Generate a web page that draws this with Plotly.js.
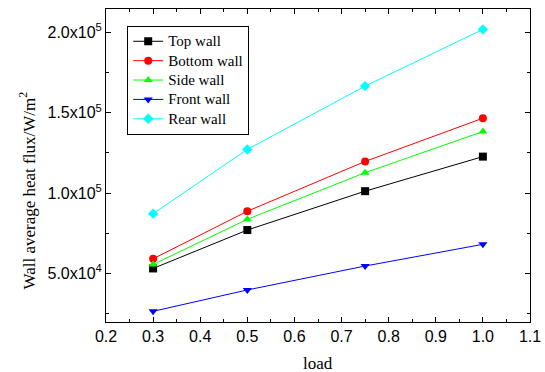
<!DOCTYPE html>
<html>
<head>
<meta charset="utf-8">
<script src="https://cdn.plot.ly/plotly-3.0.1.min.js"></script>
<style>html,body{margin:0;padding:0;background:#fff;}#chart{width:545px;height:372px;}</style>
</head>
<body>
<div id="chart"></div>
<script>
const load = [0.3, 0.5, 0.75, 1.0];
const topWall = [53100, 77000, 101200, 122700];
const bottomWall = [59100, 88700, 119700, 146600];
const sideWall = [55600, 83700, 112700, 138300];
const frontWall = [26400, 39700, 54600, 68100];
const rearWall = [87200, 127200, 166600, 201900];
const seriesNames = ["Top wall", "Bottom wall", "Side wall", "Front wall", "Rear wall"];
const yTickVals = [50000, 100000, 150000, 200000];
const yTickText = ["5.0x10<sup>4</sup>", "1.0x10<sup>5</sup>", "1.5x10<sup>5</sup>", "2.0x10<sup>5</sup>"];
const xTickVals = [0.2, 0.3, 0.4, 0.5, 0.6, 0.7, 0.8, 0.9, 1.0, 1.1];
const xTickText = ["0.2", "0.3", "0.4", "0.5", "0.6", "0.7", "0.8", "0.9", "1.0", "1.1"];
const xTitle = "load";
const yTitle = "Wall average heat flux/W/m<sup>2</sup>";

const SANS = "Liberation Sans";
const SERIF = "Liberation Serif";

const styles = [
  {color: "#000000", symbol: "square"},
  {color: "#ff0000", symbol: "circle"},
  {color: "#00ff00", symbol: "triangle-up"},
  {color: "#0000ff", symbol: "triangle-down"},
  {color: "#00ffff", symbol: "diamond"}
];
const ys = [topWall, bottomWall, sideWall, frontWall, rearWall];
const traces = ys.map((y, i) => ({
  x: load, y: y,
  name: '<span style="font-size:15px">' + seriesNames[i] + '</span>',
  type: "scatter", mode: "lines+markers",
  line: {color: styles[i].color, width: 1},
  marker: {color: styles[i].color, symbol: styles[i].symbol, size: 8}
}));

const axisCommon = {
  showline: true, linecolor: "#000", linewidth: 1, mirror: "allticks",
  ticks: "inside", ticklen: 5, tickwidth: 1, tickcolor: "#000",
  showgrid: false, zeroline: false,
  tickfont: {family: SANS, size: 16, color: "#000"}
};

const layout = {
  width: 545, height: 372,
  margin: {l: 106, r: 15, t: 9, b: 50},
  font: {family: SERIF, size: 15, color: "#000"},
  paper_bgcolor: "#fff", plot_bgcolor: "#fff",
  showlegend: true,
  legend: {
    x: 0.05, y: 0.947, xanchor: "left", yanchor: "top",
    bordercolor: "#000", borderwidth: 1, bgcolor: "#fff",
    font: {family: SERIF, size: 12.6, color: "#000"},
    tracegroupgap: 0
  },
  xaxis: Object.assign({}, axisCommon, {
    range: [0.2, 1.1], tickvals: xTickVals, ticktext: xTickText,
    minor: {tickvals: [0.25,0.35,0.45,0.55,0.65,0.75,0.85,0.95,1.05], ticks: "inside", ticklen: 3, tickcolor: "#000"}
  }),
  yaxis: Object.assign({}, axisCommon, {
    range: [19750, 214600], tickvals: yTickVals, ticktext: yTickText,
    minor: {tickvals: [25000, 75000, 125000, 175000], ticks: "inside", ticklen: 3, tickcolor: "#000"}
  }),
  annotations: [{
    text: yTitle, textangle: -90, xref: "paper", yref: "paper",
    x: -0.1863, y: 0.42, xanchor: "center", yanchor: "middle", showarrow: false,
    font: {family: SERIF, size: 17, color: "#000"}
  }, {
    text: xTitle, xref: "paper", yref: "paper",
    x: 0.5, y: -0.131, xanchor: "center", yanchor: "middle", showarrow: false,
    font: {family: SERIF, size: 17, color: "#000"}
  }]
};

Plotly.newPlot("chart", traces, layout, {displayModeBar: false, staticPlot: true});
</script>
</body>
</html>
